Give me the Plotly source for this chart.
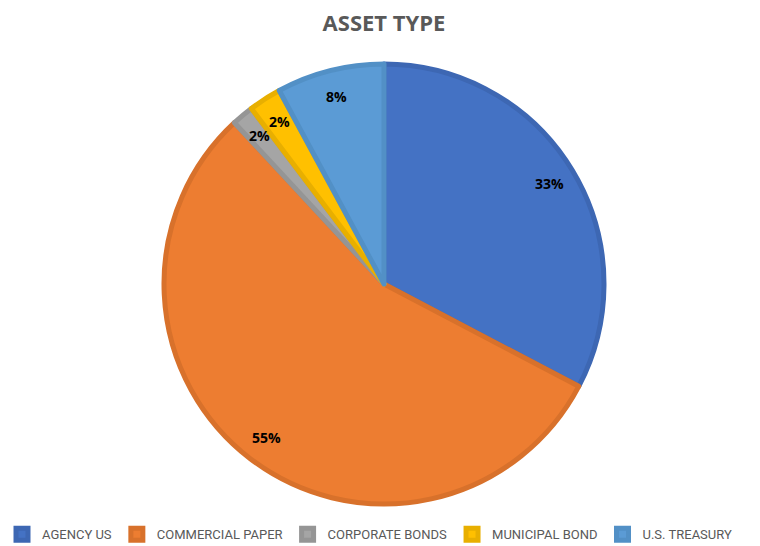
import math
import plotly.graph_objects as go

categories = ["AGENCY US", "COMMERCIAL PAPER", "CORPORATE BONDS", "MUNICIPAL BOND", "U.S. TREASURY"]
values = [32.7, 55.4, 1.6, 2.4, 7.9]
fill_colors = ["#4472C4", "#ED7D31", "#A5A5A5", "#FFC000", "#5B9BD5"]
line_colors = ["#3D67B3", "#D8712B", "#959595", "#E8AF00", "#5290C6"]

# the page body has an 8px margin, so the figure is sized to fit the window
OFF = 8
W, H = 760 - OFF, 546 - OFF
cx_px, cy_px, r_px = 384 - OFF, 284 - OFF, 220
dom_x = [(cx_px - r_px) / W, (cx_px + r_px) / W]
dom_y = [1 - (cy_px + r_px) / H, 1 - (cy_px - r_px) / H]

fig = go.Figure(go.Pie(
    labels=categories,
    values=values,
    sort=False,
    direction="clockwise",
    rotation=0,
    marker=dict(colors=fill_colors, line=dict(color=line_colors, width=5)),
    textinfo="none",
    hoverinfo="label+percent",
    domain=dict(x=dom_x, y=dom_y),
))

# percentage labels placed from the data (cumulative angles)
total = sum(values)
cum = 0.0
annotations = []
for v in values:
    mid = (cum + v / 2) / total * 2 * math.pi
    cum += v
    lr = 0.88 * r_px
    px = cx_px + lr * math.sin(mid)
    py = cy_px - lr * math.cos(mid)
    annotations.append(dict(
        x=px / W, y=1 - py / H, xref="paper", yref="paper",
        text=f"<b>{round(v / total * 100):.0f}%</b>", showarrow=False,
        font=dict(family="Open Sans, Liberation Sans, sans-serif", size=14, color="#000000"),
        xanchor="center", yanchor="middle",
    ))

fig.update_layout(
    width=W, height=H,
    margin=dict(l=0, r=0, t=0, b=0, autoexpand=False),
    paper_bgcolor="white",
    plot_bgcolor="white",
    title=dict(
        text="<b>ASSET TYPE</b>",
        x=0.5, xanchor="center", y=1 - (23 - OFF) / H, yanchor="middle",
        font=dict(family="Open Sans, Liberation Sans, sans-serif", size=22, color="#595959"),
    ),
    legend=dict(
        orientation="h", x=-6 / W, xanchor="left", y=-0.006, yanchor="bottom",
        font=dict(family="Roboto, sans-serif", size=13, color="#595959"),
        itemwidth=30,
        tracegroupgap=0,
    ),
    annotations=annotations,
)

fig.write_html("out.html")
